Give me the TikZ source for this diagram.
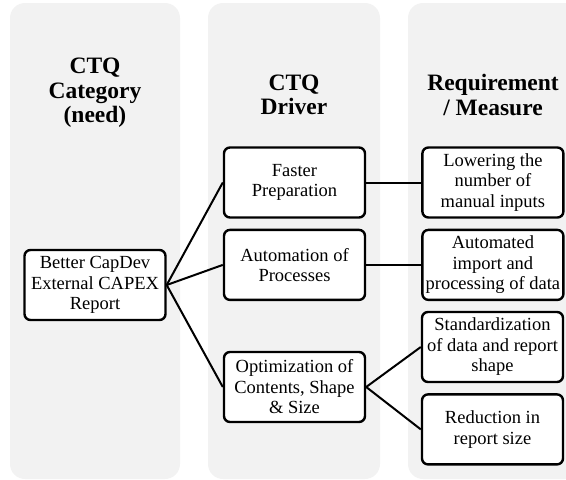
\documentclass[tikz,border=0pt]{standalone}
\usepackage{fontspec}
\setmainfont{Liberation Serif}
\usetikzlibrary{positioning}
\definecolor{panelgray}{RGB}{242,242,242}
\tikzstyle{panel} = [fill=panelgray, rounded corners=15pt]
\tikzstyle{header} = [align=center, font=\fontsize{23.5}{24.5}\selectfont\bfseries]
\tikzstyle{block} = [rectangle, rounded corners=6pt, minimum width=141pt, minimum height=70pt, align=center, inner sep=1pt, draw=black, line width=2.4pt, fill=white, font=\fontsize{18.5}{20.5}\selectfont]
\tikzstyle{link} = [line width=2pt]

\begin{document}
\begin{tikzpicture}[x=1pt, y=-1pt, node distance=10pt and 55pt]
				\clip (0,0) rectangle (566,480);
				% column backgrounds
				\fill [panel] (10,3) rectangle (180,479);
				\fill [panel] (208,3) rectangle (380,479);
				\fill [panel] (408,3) rectangle (580,479);

				\node (head1) [header] at (95,93) {CTQ\\Category\\(need)};
				\node (head2) [header] at (294,95) {CTQ\\Driver};
				\node (head3) [header] at (493,95) {Requirement\\/ Measure};

				\node (need) [block] at (95,285) {Better CapDev\\External CAPEX\\Report};
				\node (faster) [block] at (294.5,182.5) {Faster\\Preparation};
				\node (auto) [block, below=of faster] {Automation of\\Processes};
				\node (optim) [block] at (294.5,387) {Optimization of\\Contents, Shape\\\& Size};
				\node (lower) [block, right=of faster] {Lowering the\\number of\\manual inputs};
				\node (import) [block, right=of auto] {Automated\\import and\\processing of data};
				\node (standard) [block] at (492.5,347) {Standardization\\of data and report\\shape};
				\node (reduce) [block, below=of standard] {Reduction in\\report size};

				\draw [link] (need.east) -- (faster.west);
				\draw [link] (need.east) -- (auto.west);
				\draw [link] (need.east) -- (optim.west);
				\draw [link] (faster) -- (lower);
				\draw [link] (auto) -- (import);
				\draw [link] (optim.east) -- (standard.west);
				\draw [link] (optim.east) -- (reduce.west);
			\end{tikzpicture}
\end{document}
